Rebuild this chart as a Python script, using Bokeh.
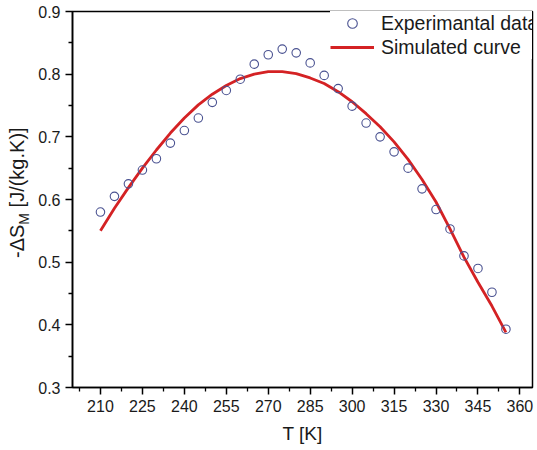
import math
from bokeh.plotting import figure
from bokeh.layouts import row
from bokeh.models import (FixedTicker, Range1d, Legend, LegendItem, Div,
                          BoxAnnotation, ColumnDataSource)
from bokeh.embed import file_html
from bokeh.resources import INLINE

# ---- data ----
T_exp = [210, 215, 220, 225, 230, 235, 240, 245, 250, 255,
         260, 265, 270, 275, 280, 285, 290, 295, 300, 305,
         310, 315, 320, 325, 330, 335, 340, 345, 350, 355]
dS_exp = [0.580, 0.605, 0.625, 0.647, 0.665, 0.690, 0.710, 0.730, 0.755, 0.774,
          0.792, 0.816, 0.831, 0.840, 0.834, 0.818, 0.798, 0.777, 0.749, 0.722,
          0.700, 0.676, 0.650, 0.617, 0.584, 0.553, 0.510, 0.490, 0.452, 0.393]

T_sim = [210, 215, 220, 225, 230, 235, 240, 245, 250, 255,
         260, 265, 270, 275, 280, 285, 290, 295, 300, 305,
         310, 315, 320, 325, 330, 335, 340, 345, 350, 355]
dS_sim = [0.550, 0.586, 0.619, 0.650, 0.679, 0.706, 0.730, 0.751, 0.768, 0.782,
          0.793, 0.800, 0.804, 0.804, 0.801, 0.794, 0.785, 0.772, 0.756, 0.737,
          0.716, 0.692, 0.664, 0.632, 0.596, 0.553, 0.508, 0.468, 0.430, 0.388]

x_major = [210, 225, 240, 255, 270, 285, 300, 315, 330, 345, 360]
x_minor = [202.5, 217.5, 232.5, 247.5, 262.5, 277.5, 292.5, 307.5, 322.5, 337.5, 352.5]
y_major = [0.3, 0.4, 0.5, 0.6, 0.7, 0.8, 0.9]
y_minor = [0.35, 0.45, 0.55, 0.65, 0.75, 0.85]

legend_labels = ["Experimantal data", "Simulated curve"]
x_label = "T [K]"
y_label_html = "-\u0394S<sub style='font-size:14px'>M</sub> [J/(kg.K)]"

FONT = "Liberation Sans"
TXT = "#1a1a1a"

LEFT_W = 35

p = figure(width=537 - LEFT_W, height=450, output_backend="svg", toolbar_location=None,
           x_range=Range1d(200, 364.5), y_range=Range1d(0.3, 0.9),
           min_border_left=70 - LEFT_W, min_border_right=5, min_border_top=11,
           min_border_bottom=63)
p.background_fill_color = "white"
p.border_fill_color = "white"
p.outline_line_color = "black"
p.outline_line_width = 1.5
p.xgrid.visible = False
p.ygrid.visible = False

exp_src = ColumnDataSource(dict(x=T_exp, y=dS_exp))
sim_src = ColumnDataSource(dict(x=T_sim, y=dS_sim))

ln = p.line("x", "y", source=sim_src, line_color="#d42224", line_width=2.8)
sc = p.scatter("x", "y", source=exp_src, marker="circle", size=8.5,
               line_color="#4a5291", line_width=1.1, fill_color=None)

for ax in (p.xaxis[0], p.yaxis[0]):
    ax.axis_line_width = 1.6
    ax.axis_line_color = "black"
    ax.major_tick_line_width = 1.5
    ax.minor_tick_line_width = 1.3
    ax.major_tick_in = 0
    ax.major_tick_out = 7
    ax.minor_tick_in = 0
    ax.minor_tick_out = 4
    ax.major_label_text_font = FONT
    ax.major_label_text_font_size = "16px"
    ax.major_label_text_color = TXT
    ax.major_label_standoff = 5

p.xaxis.ticker = FixedTicker(ticks=x_major, minor_ticks=x_minor)
p.yaxis.ticker = FixedTicker(ticks=y_major, minor_ticks=y_minor)
p.xaxis.axis_label = x_label
p.xaxis.axis_label_text_font = FONT
p.xaxis.axis_label_text_font_style = "normal"
p.xaxis.axis_label_text_font_size = "19px"
p.xaxis.axis_label_text_color = TXT
p.xaxis.axis_label_standoff = 8
p.yaxis.axis_label = None

legend = Legend(items=[LegendItem(label=legend_labels[0], renderers=[sc]),
                       LegendItem(label=legend_labels[1], renderers=[ln])],
                location=(258, 376 - 48))
legend.padding = 0
legend.margin = 0
legend.spacing = 0
legend.glyph_width = 44
legend.glyph_height = 24
legend.label_height = 24
legend.label_standoff = 7
legend.label_text_font = FONT
legend.label_text_font_size = "19.5px"
legend.label_text_color = TXT
legend.border_line_alpha = 0
legend.background_fill_color = "white"
legend.background_fill_alpha = 1.0
p.add_layout(legend)

# thin left rule of the legend box
p.add_layout(BoxAnnotation(left=258, right=259, left_units="screen", right_units="screen",
                           top=0.9, bottom=0.8265, fill_color="#8c8c8c", fill_alpha=1.0,
                           line_alpha=0))

# rotated y-axis title (real text, with subscript)
ylab = Div(
    text=("<div style=\"transform: translate(7px, 258px) rotate(-90deg); "
          "transform-origin: 0 0; white-space: nowrap; width: max-content; "
          f"font-family: '{FONT}'; font-size: 20px; line-height: 1; color: {TXT};\">"
          f"{y_label_html}</div>"),
    width=LEFT_W, height=450, margin=0,
    styles={"overflow": "visible", "background-color": "white"})

layout = row(ylab, p, spacing=0)

open("out.html", "w").write(file_html(layout, INLINE))
